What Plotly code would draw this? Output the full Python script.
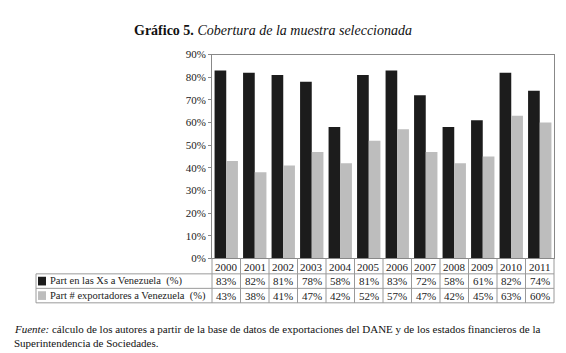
import plotly.graph_objects as go

years = ["2000", "2001", "2002", "2003", "2004", "2005", "2006", "2007", "2008", "2009", "2010", "2011"]
part_xs = [83, 82, 81, 78, 58, 81, 83, 72, 58, 61, 82, 74]
part_exp = [43, 38, 41, 47, 42, 52, 57, 47, 42, 45, 63, 60]
series_names = ["Part en las Xs a Venezuela  (%)", "Part # exportadores a Venezuela  (%)"]
yticks = [0, 10, 20, 30, 40, 50, 60, 70, 80, 90]

W, H = 566, 353
FONT = "Liberation Serif"
px = lambda x: x / W
py = lambda y: 1 - y / H

X0, X1 = 204, 546
Y0, Y1 = 253, 42
BLACK = "#1c1c1c"
GRAY = "#bdbdbd"

fig = go.Figure()
fig.add_bar(x=years, y=part_xs, name=series_names[0], marker=dict(color=BLACK, line=dict(width=0)))
fig.add_bar(x=years, y=part_exp, name=series_names[1], marker=dict(color=GRAY, line=dict(width=0)))

shapes = []
annotations = []
n = len(years)
cw = (X1 - X0) / n
rows_y = [253, 269, 284, 299]
grid = "#9a9a9a"
for yy in rows_y[1:]:
    shapes.append(dict(type="line", xref="paper", yref="paper", x0=px(28), x1=px(X1), y0=py(yy), y1=py(yy), line=dict(color=grid, width=1)))
for i in range(n + 1):
    xx = X0 + i * cw
    shapes.append(dict(type="line", xref="paper", yref="paper", x0=px(xx), x1=px(xx), y0=py(rows_y[0]), y1=py(rows_y[3]), line=dict(color=grid, width=1)))
shapes.append(dict(type="line", xref="paper", yref="paper", x0=px(28), x1=px(28), y0=py(rows_y[1]), y1=py(rows_y[3]), line=dict(color=grid, width=1)))
for r, col in enumerate([BLACK, GRAY]):
    yc = (rows_y[r + 1] + rows_y[r + 2]) / 2
    shapes.append(dict(type="rect", xref="paper", yref="paper", x0=px(30), x1=px(38), y0=py(yc + 4.5), y1=py(yc - 4.5), fillcolor=col, line=dict(width=0)))
    annotations.append(dict(xref="paper", yref="paper", x=px(40), y=py(yc), text=series_names[r], showarrow=False, xanchor="left", yanchor="middle", font=dict(family=FONT, size=10.5, color="#222")))

for i, yr in enumerate(years):
    xc = X0 + (i + 0.5) * cw
    annotations.append(dict(xref="paper", yref="paper", x=px(xc), y=py((rows_y[0] + rows_y[1]) / 2 + 1), text=yr, showarrow=False, xanchor="center", yanchor="middle", font=dict(family=FONT, size=11, color="#222")))
    for r, vals in enumerate([part_xs, part_exp]):
        yc = (rows_y[r + 1] + rows_y[r + 2]) / 2
        annotations.append(dict(xref="paper", yref="paper", x=px(xc), y=py(yc), text=f"{vals[i]}%", showarrow=False, xanchor="center", yanchor="middle", font=dict(family=FONT, size=11, color="#222")))

annotations.append(dict(xref="paper", yref="paper", x=px(265), y=py(17), text="<b>Gráfico 5.</b> <i>Cobertura de la muestra seleccionada</i>", showarrow=False, xanchor="center", yanchor="middle", font=dict(family=FONT, size=14, color="#111")))
annotations.append(dict(xref="paper", yref="paper", x=px(4), y=py(326), text="<i>Fuente:</i> cálculo de los autores a partir de la base de datos de exportaciones del DANE y de los estados financieros de la", showarrow=False, xanchor="left", yanchor="middle", font=dict(family=FONT, size=11, color="#111")))
annotations.append(dict(xref="paper", yref="paper", x=px(4), y=py(341), text="Superintendencia de Sociedades.", showarrow=False, xanchor="left", yanchor="middle", font=dict(family=FONT, size=11, color="#111")))

fig.update_layout(
    width=W, height=H,
    margin=dict(l=0, r=0, t=0, b=0),
    paper_bgcolor="white", plot_bgcolor="white",
    barmode="group", bargap=0.18, bargroupgap=0.0,
    showlegend=False,
    xaxis=dict(domain=[px(X0), px(X1)], showticklabels=False, ticks="", showgrid=False,
               showline=True, linecolor="#888", mirror=True, linewidth=1),
    yaxis=dict(domain=[py(Y0), py(Y1)], range=[0, 90], tickvals=yticks,
               ticktext=[f"{v}%" for v in yticks], ticks="outside", ticklen=3, tickcolor="#888",
               showgrid=False, showline=True, linecolor="#888", mirror=True, linewidth=1,
               tickfont=dict(family=FONT, size=11, color="#222"), zeroline=False),
    shapes=shapes, annotations=annotations,
)
fig.write_html("out.html")
